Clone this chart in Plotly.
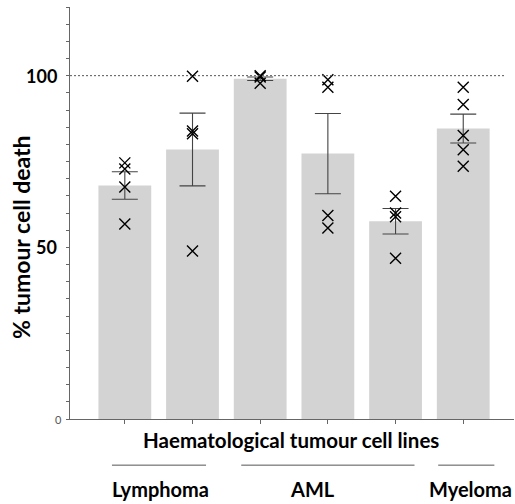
import plotly.graph_objects as go

# ---- data ----
cell_lines = ["L1", "L2", "A1", "A2", "A3", "M1"]
bar_means = [68.0, 78.5, 99.1, 77.3, 57.6, 84.6]
bar_sem = [4.0, 10.6, 0.5, 11.7, 3.7, 4.2]
pts_l1 = [74.6, 72.8, 67.6, 56.8]
pts_l2 = [99.8, 83.9, 83.1, 48.9]
pts_a1 = [100.0, 99.6, 97.8]
pts_a2 = [98.8, 96.6, 59.3, 55.6]
pts_a3 = [64.9, 60.0, 58.9, 46.8]
pts_m1 = [96.6, 91.6, 82.6, 78.4, 73.6]
points = [pts_l1, pts_l2, pts_a1, pts_a2, pts_a3, pts_m1]
groups = ["Lymphoma", "AML", "Myeloma"]
group_spans = [(-0.19, 1.2), (1.72, 4.28), (4.63, 5.46)]
group_label_x = [0.52, 2.77, 5.1]
ytick_vals = [0, 50, 100]
ytick_text = ["0", "50", "100"]

FONT = "Lato"
xpos = list(range(len(cell_lines)))

fig = go.Figure()
fig.add_trace(go.Bar(
    x=xpos, y=bar_means, width=0.78,
    marker=dict(color="#d3d3d3", line=dict(width=0)),
    error_y=dict(type="data", array=bar_sem, visible=True,
                 color="#444444", thickness=1.1, width=13),
    showlegend=False,
))
px_x, px_y = [], []
for i, vals in enumerate(points):
    for v in vals:
        px_x.append(xpos[i])
        px_y.append(v)
fig.add_trace(go.Scatter(
    x=px_x, y=px_y, mode="markers",
    marker=dict(symbol="x-thin", size=11, color="black",
                line=dict(width=1.4, color="black")),
    showlegend=False,
))

# reference line at 100
fig.add_shape(type="line", xref="x", yref="y", x0=-0.81, x1=5.63, y0=100, y1=100,
              line=dict(color="#555555", width=1, dash="2px,2px"))

# group underlines and labels
for (a, b), name, lx in zip(group_spans, groups, group_label_x):
    fig.add_shape(type="line", xref="x", yref="paper", x0=a, x1=b, y0=-0.112, y1=-0.112,
                  line=dict(color="#555555", width=1))
    fig.add_annotation(x=lx, xref="x", y=-0.170, yref="paper", text="<b>%s</b>" % name,
                       showarrow=False, font=dict(family=FONT, size=20, color="black"),
                       xanchor="center", yanchor="middle")

# x title
fig.add_annotation(x=0.498, xref="paper", y=-0.051, yref="paper",
                   text="<b>Haematological tumour cell lines</b>", showarrow=False,
                   font=dict(family=FONT, size=20.5, color="black"),
                   xanchor="center", yanchor="middle")
# y title
fig.add_annotation(x=-0.110, xref="paper", y=0.442, yref="paper",
                   text="<b>% tumour cell death</b>", showarrow=False, textangle=-90,
                   font=dict(family=FONT, size=23, color="black"),
                   xanchor="center", yanchor="middle")
# y tick labels
for v, t in zip(ytick_vals, ytick_text):
    if v == 0:
        fig.add_annotation(x=-0.014, xref="paper", y=v, yref="y", text=t, showarrow=False,
                           font=dict(family=FONT, size=11, color="#555555"),
                           xanchor="right", yanchor="middle")
    else:
        fig.add_annotation(x=-0.024, xref="paper", y=v, yref="y", text="<b>%s</b>" % t,
                           showarrow=False, font=dict(family=FONT, size=18, color="black"),
                           xanchor="right", yanchor="middle")

fig.update_layout(
    width=515, height=504,
    margin=dict(l=70, r=1, t=7, b=85),
    plot_bgcolor="white", paper_bgcolor="white",
)
fig.update_xaxes(range=[-0.81, 5.75], showgrid=False, zeroline=False,
                 showline=True, linecolor="#666666", linewidth=1,
                 tickvals=xpos, ticktext=[""] * len(xpos), ticks="outside",
                 ticklen=4, tickcolor="#666666", showticklabels=False)
fig.update_yaxes(range=[0, 120], showgrid=False, zeroline=False,
                 showline=True, linecolor="#666666", linewidth=1,
                 tickvals=list(range(0, 121, 5)), ticks="outside", ticklen=3,
                 tickcolor="#666666", showticklabels=False)

# remove the default page margin so the figure fills the window exactly
fig.write_html("out.html",
               config={"displayModeBar": False},
               post_script="document.body.style.margin='0px';"
                           "document.body.style.overflow='hidden';")
